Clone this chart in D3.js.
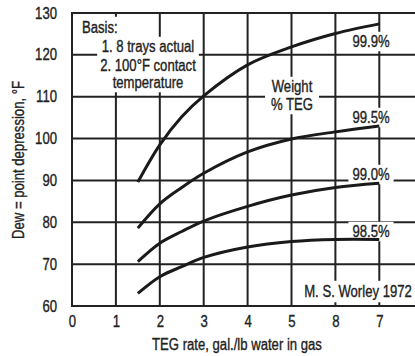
<!DOCTYPE html>
<html>
<head>
<meta charset="utf-8">
<script src="https://cdn.jsdelivr.net/npm/d3@7"></script>
<style>
  body { margin: 0; background: #fff; }
  svg { display: block; }
  text { font-family: "Liberation Sans", Arial, sans-serif; fill: #222; stroke: #222; stroke-width: 0.35px; }
</style>
</head>
<body>
<div id="chart"></div>
<script>
// TEG rate (gal./lb water in gas) where the curves were read
const tegRate = [1.5, 2, 2.5, 3, 4, 5, 6, 7];
// dew point depression, deg F, one list per glycol purity
const teg999 = [89.6, 98.5, 105.2, 110.2, 117.6, 121.9, 125.1, 127.4];
const teg995 = [78.6, 84.4, 88.3, 91.7, 96.8, 99.9, 101.6, 103.0];
const teg990 = [70.6, 75.0, 77.8, 80.3, 83.8, 86.5, 88.3, 89.3];
const teg985 = [63.0, 67.0, 69.4, 71.6, 74.1, 75.4, 75.9, 75.9];
const seriesNames = ["99.9%", "99.5%", "99.0%", "98.5%"];

const xTicks = [0, 1, 2, 3, 4, 5, 6, 7];
const xTickLabels = ["0", "1", "2", "3", "4", "5", "8", "7"]; // as printed on the scan
const yTicks = [60, 70, 80, 90, 100, 110, 120, 130];

const width = 415, height = 356;
const margin = { left: 72, top: 13, bottom: 50 };
const squeeze = 0.82; // the scan uses a narrow face

const svg = d3.select("#chart")
  .append("svg")
  .attr("width", width)
  .attr("height", height);

const x = d3.scaleLinear().domain([0, 8]).range([margin.left, margin.left + 8 * 43.9]);
const y = d3.scaleLinear().domain([60, 130]).range([height - margin.bottom, margin.top]);

const ink = "#222";

// move x/y into a transform and squeeze horizontally
function narrow(sel, extra) {
  sel.each(function () {
    const t = d3.select(this);
    const tx = +t.attr("x") || 0, ty = +t.attr("y") || 0;
    t.attr("x", 0).attr("y", 0)
      .attr("transform", `translate(${tx},${ty}) ${extra || ""} scale(${squeeze},1)`);
  });
}

// grid
const grid = svg.append("g");
grid.selectAll(".h")
  .data(yTicks)
  .join("line")
  .attr("x1", x(0)).attr("x2", x(8))
  .attr("y1", d => y(d)).attr("y2", d => y(d))
  .attr("stroke", ink).attr("stroke-width", 2);
grid.selectAll(".v")
  .data(xTicks)
  .join("line")
  .attr("x1", d => x(d)).attr("x2", d => x(d))
  .attr("y1", y(60) + 1).attr("y2", y(130) - 1)
  .attr("stroke", ink).attr("stroke-width", 2);

// white patches behind the labels, go under the curves
const masks = svg.append("g");
const curves = svg.append("g");
const labels = svg.append("g");

const allSeries = [teg999, teg995, teg990, teg985];
const line = d3.line()
  .x((d, i) => x(tegRate[i]))
  .y(d => y(d))
  .curve(d3.curveCatmullRom.alpha(0.5));

curves.selectAll("path")
  .data(allSeries)
  .join("path")
  .attr("d", line)
  .attr("fill", "none")
  .attr("stroke", "#1a1a1a")
  .attr("stroke-width", 3);

// axes (labels only, the grid already draws the lines)
const xAxis = svg.append("g")
  .attr("transform", `translate(0, ${y(60)})`)
  .call(d3.axisBottom(x).tickValues(xTicks).tickSize(0).tickPadding(10)
    .tickFormat((d, i) => xTickLabels[i]));
xAxis.select(".domain").remove();
xAxis.selectAll("text").style("font-size", "16px")
  .attr("font-family", null).attr("fill", ink).call(narrow);

const yAxis = svg.append("g")
  .attr("transform", `translate(${margin.left}, 0)`)
  .call(d3.axisLeft(y).tickValues(yTicks).tickSize(0).tickPadding(15));
yAxis.select(".domain").remove();
yAxis.selectAll("text").style("font-size", "16px")
  .attr("font-family", null).attr("fill", ink).call(narrow);

svg.append("text")
  .attr("x", 237).attr("y", 350)
  .attr("text-anchor", "middle")
  .style("font-size", "16px")
  .text("TEG rate, gal./lb water in gas")
  .call(narrow);

svg.append("text")
  .attr("x", 24).attr("y", 160)
  .attr("text-anchor", "middle")
  .style("font-size", "16px")
  .text("Dew = point depression, °F")
  .call(narrow, "rotate(-90)");

// helper: a text block with a white patch behind it
function note(lines, cx, anchor, pad) {
  const g = labels.append("g");
  g.selectAll("text")
    .data(lines)
    .join("text")
    .attr("x", cx)
    .attr("y", d => d[1])
    .attr("text-anchor", anchor)
    .style("font-size", "16px")
    .text(d => d[0])
    .call(narrow);
  const b = g.node().getBBox();
  masks.append("rect")
    .attr("x", b.x - pad[0]).attr("y", b.y - pad[1])
    .attr("width", b.width + 2 * pad[0]).attr("height", b.height + 2 * pad[1])
    .attr("fill", "#fff");
}

note([["Basis:", 33]], 82, "start", [4, 2]);
note([["1. 8 trays actual", 52], ["2. 100°F contact", 71], ["temperature", 88]], 148, "middle", [3, 1]);
note([["Weight", 92], ["% TEG", 110]], 292, "middle", [6, 1]);

const labelY = [47, 123, 180, 237];
seriesNames.forEach((s, i) => note([[s, labelY[i]]], 371, "middle", [4, 1]));

note([["M. S. Worley 1972", 297]], 358, "middle", [4, 2]);
</script>
</body>
</html>
